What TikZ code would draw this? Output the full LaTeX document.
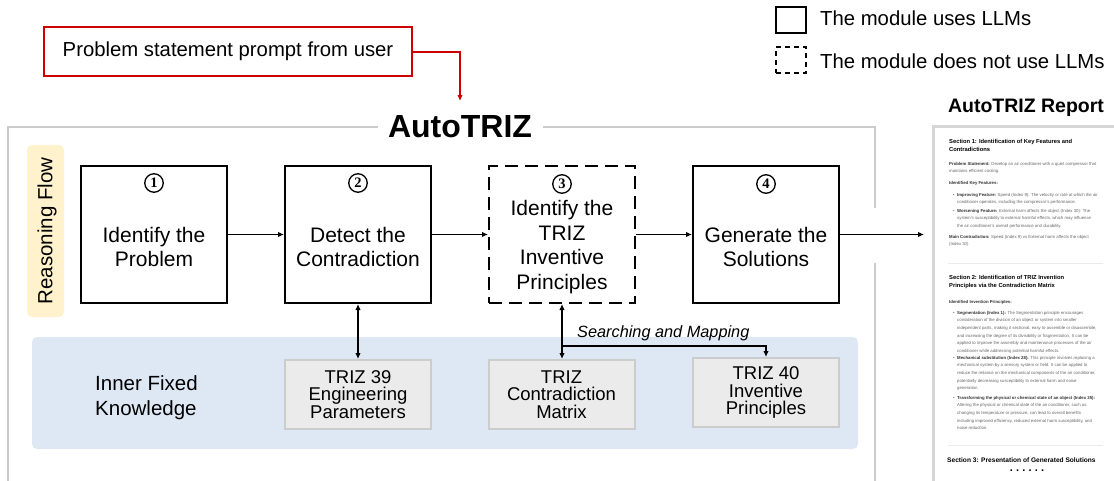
\documentclass[tikz,border=0pt]{standalone}
\usepackage{fontspec}
\setmainfont{Liberation Sans}
\newfontfamily\serifnum{Liberation Serif}
\usetikzlibrary{arrows.meta}
\definecolor{redc}{HTML}{CC0000}
\definecolor{framegray}{HTML}{CCCCCC}
\definecolor{tagyellow}{HTML}{FFF2CC}
\definecolor{panelblue}{HTML}{DEE8F4}
\definecolor{kbfill}{HTML}{EBEBEB}
\definecolor{pagegray}{HTML}{D6D6D6}
\definecolor{bodygray}{HTML}{666666}
\definecolor{labelgray}{HTML}{333333}
\tikzset{
  mainbox/.style={draw=black, line width=2pt, minimum width=146pt, minimum height=137pt, inner sep=0pt},
  dashbox/.style={mainbox, dash pattern=on 13pt off 7pt},
  maintext/.style={align=center, font=\fontsize{21}{24.5}\selectfont, inner sep=0pt},
  circnum/.style={circle, draw=black, line width=1.3pt, inner sep=0pt, minimum size=18.5pt, font=\serifnum\bfseries\fontsize{14.5}{14.5}\selectfont},
  kbbox/.style={draw=framegray, fill=kbfill, line width=2pt, minimum width=146pt, minimum height=69pt, align=center, inner sep=0pt, font=\fontsize{18.5}{17.5}\selectfont},
  arr/.style={line width=1.8pt, -{Latex[length=6pt,width=5.5pt]}},
  dblarr/.style={line width=1.8pt, {Latex[length=6pt,width=5.5pt]}-{Latex[length=6pt,width=5.5pt]}},
  redarr/.style={draw=redc, line width=2pt, -{Latex[length=6pt,width=5.5pt]}},
  frameline/.style={draw=framegray, line width=2pt},
  legtext/.style={anchor=west, inner sep=0pt, font=\fontsize{20.3}{22}\selectfont},
  rhead/.style={anchor=north west, inner sep=0pt, align=left, font=\bfseries\fontsize{5.8}{8}\selectfont},
  rbody/.style={anchor=north west, inner sep=0pt, align=left, text=bodygray, font=\fontsize{4.3}{7.6}\selectfont},
}
\begin{document}
\begin{tikzpicture}[x=1pt, y=-1pt]
\useasboundingbox (0,0) rectangle (1114,480);
\clip (0,0) rectangle (1114,480);

% legend
\node[draw=black, line width=2pt, minimum width=30pt, minimum height=26pt, inner sep=0pt] (leg1) at (791,20) {};
\node[legtext] (leg1t) at (820,18) {The module uses LLMs};
\node[draw=black, line width=2pt, dash pattern=on 5pt off 4pt, minimum width=30pt, minimum height=26pt, inner sep=0pt] (leg2) at (791,60) {};
\node[legtext] (leg2t) at (820,61) {The module does not use LLMs};

% prompt
\node[draw=redc, line width=2pt, minimum width=368pt, minimum height=49pt, inner sep=0pt, font=\fontsize{20.3}{22}\selectfont] (prompt) at (228,51.5) {Problem statement prompt from user};
\coordinate (redend) at (460,101);
\draw[redarr] (prompt.east) -| (redend);

% AutoTRIZ frame
\draw[frameline] (378,127) -- (8,127) -- (8,490);
\draw[frameline] (543,127) -- (875,127) -- (875,208);
\draw[frameline] (875,263) -- (875,490);
\node[font=\bfseries\fontsize{32}{34}\selectfont, inner sep=0pt] (title) at (460,127) {AutoTRIZ};

% reasoning flow tag
\node[fill=tagyellow, rounded corners=5pt, minimum width=37pt, minimum height=172pt, inner sep=0pt] (tag) at (45.5,231) {};
\node[rotate=90, font=\fontsize{20.5}{22}\selectfont, inner sep=0pt] (tagt) at (47,231) {Reasoning Flow};

% knowledge panel
\node[fill=panelblue, rounded corners=5pt, minimum width=826pt, minimum height=112pt, inner sep=0pt] (panel) at (445,393) {};
\node[anchor=west, align=left, inner sep=0pt, font=\fontsize{20.5}{25}\selectfont] (panelt) at (95,398) {Inner Fixed\\Knowledge};

% main boxes
\node[mainbox] (b1) at (154,234.5) {};
\node[mainbox] (b2) at (358,234.5) {};
\node[dashbox] (b3) at (562,234.5) {};
\node[mainbox] (b4) at (766,234.5) {};
\node[circnum] (n1) at (154,183) {1};
\node[circnum] (n2) at (358,183) {2};
\node[circnum] (n3) at (562,184) {3};
\node[circnum] (n4) at (766,184) {4};
\node[maintext] (t1) at (154,247) {Identify the\\Problem};
\node[maintext] (t2) at (358,247) {Detect the\\Contradiction};
\node[maintext] (t3) at (562,247) {Identify the\\TRIZ\\Inventive\\Principles};
\node[maintext] (t4) at (766,247) {Generate the\\Solutions};

% knowledge boxes
\node[kbbox] (g1) at (358,394.5) {TRIZ 39\\Engineering\\Parameters};
\node[kbbox] (g2) at (561.5,394.5) {TRIZ\\Contradiction\\Matrix};
\node[kbbox] (g3) at (766,392.5) {TRIZ 40\\Inventive\\Principles};

% report page
\node[draw=pagegray, fill=white, line width=3pt, minimum width=200pt, minimum height=380pt, anchor=north west, inner sep=0pt] (report) at (932,125) {};
\node[font=\bfseries\fontsize{19.5}{21}\selectfont, inner sep=0pt] (rtitle) at (1026,108) {AutoTRIZ Report};

% flow arrows
\draw[arr] (b1.east) -- (b2.west);
\draw[arr] (b2.east) -- (b3.west);
\draw[arr] (b3.east) -- (b4.west);
\draw[arr, shorten >=8pt] (b4.east) -- (b4.east -| report.west);
\draw[dblarr] (b2.south) -- (g1.north);
\draw[dblarr] (b3.south) -- (b3.south |- g2.north);
\coordinate (br) at (562,346);
\draw[arr] (br) -| (g3.north);
\node[anchor=west, inner sep=0pt, font=\itshape\fontsize{16.3}{18}\selectfont] (smap) at (577,333) {Searching and Mapping};

% report content
\node[rhead] (s1h) at (949,139) {Section 1: Identification of Key Features and\\Contradictions};
\node[rbody] (s1p) at (949,162) {\textcolor{labelgray}{\bfseries Problem Statement:} Develop an air conditioner with a quiet compressor that\\maintains efficient cooling.};
\node[rbody] (s1f) at (949,181) {\textcolor{labelgray}{\bfseries Identified Key Features:}};
\node[rbody] (s1b1) at (957,193) {\llap{\textbullet\hspace{2.5pt}}\textcolor{labelgray}{\bfseries Improving Feature:} Speed (Index 9): The velocity or rate at which the air\\conditioner operates, including the compressor's performance.};
\node[rbody] (s1b2) at (957,209) {\llap{\textbullet\hspace{2.5pt}}\textcolor{labelgray}{\bfseries Worsening Feature:} External harm affects the object (Index 30): The\\system's susceptibility to external harmful effects, which may influence\\the air conditioner's overall performance and durability.};
\node[rbody] (s1m) at (949,235) {\textcolor{labelgray}{\bfseries Main Contradiction:} Speed (Index 9) vs External harm affects the object\\(Index 30)};
\coordinate (sep1a) at (948,263);
\coordinate (sep1b) at (1103,263);
\draw[draw=black!8, line width=0.8pt] (sep1a) -- (sep1b);
\node[rhead] (s2h) at (949,275) {Section 2: Identification of TRIZ Invention\\Principles via the Contradiction Matrix};
\node[rbody] (s2f) at (949,300) {\textcolor{labelgray}{\bfseries Identified Invention Principles:}};
\node[rbody] (s2b1) at (957,311) {\llap{\textbullet\hspace{2.5pt}}\textcolor{labelgray}{\bfseries Segmentation (Index 1):} The Segmentation principle encourages\\consideration of the division of an object or system into smaller\\independent parts, making it sectional, easy to assemble or disassemble,\\and increasing the degree of its divisibility or fragmentation. It can be\\applied to improve the assembly and maintenance processes of the air\\conditioner while addressing potential harmful effects.};
\node[rbody] (s2b2) at (957,356) {\llap{\textbullet\hspace{2.5pt}}\textcolor{labelgray}{\bfseries Mechanical substitution (Index 28):} This principle involves replacing a\\mechanical system by a sensory system or field. It can be applied to\\reduce the reliance on the mechanical components of the air conditioner,\\potentially decreasing susceptibility to external harm and noise\\generation.};
\node[rbody] (s2b3) at (957,396) {\llap{\textbullet\hspace{2.5pt}}\textcolor{labelgray}{\bfseries Transforming the physical or chemical state of an object (Index 35):}\\Altering the physical or chemical state of the air conditioner, such as\\changing its temperature or pressure, can lead to overall benefits\\including improved efficiency, reduced external harm susceptibility, and\\noise reduction.};
\coordinate (sep2a) at (948,445);
\coordinate (sep2b) at (1103,445);
\draw[draw=black!8, line width=0.8pt] (sep2a) -- (sep2b);
\node[rhead, font=\bfseries\fontsize{6.6}{8}\selectfont] (s3h) at (947,458) {Section 3: Presentation of Generated Solutions};
\node[inner sep=0pt, font=\bfseries\fontsize{11}{11}\selectfont] (dots) at (1027,471) {.\hspace{3.2pt}.\hspace{3.2pt}.\hspace{3.2pt}.\hspace{3.2pt}.\hspace{3.2pt}.};
\end{tikzpicture}
\end{document}
